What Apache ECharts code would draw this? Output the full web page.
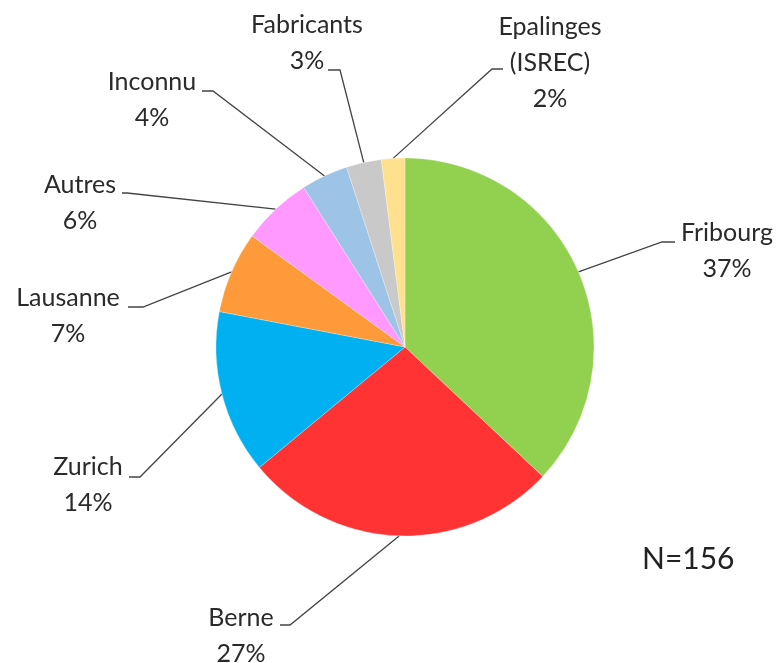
<!DOCTYPE html>
<html>
<head>
<meta charset="utf-8">
<script src="https://cdn.jsdelivr.net/npm/echarts@6/dist/echarts.min.js"></script>
<style>
  html, body { margin: 0; padding: 0; background: #fff; }
  #chart { width: 780px; height: 663px; }
</style>
</head>
<body>
<div id="chart"></div>
<script>
// Origine des échantillons (N = 156), en pourcentage
const categories = ['Fribourg', 'Berne', 'Zurich', 'Lausanne', 'Autres', 'Inconnu', 'Fabricants', 'Epalinges\n(ISREC)'];
const percents = [37, 27, 14, 7, 6, 4, 3, 2];
const sliceColors = ['#92D050', '#FF3333', '#00B0F0', '#FF9A3A', '#FF99FF', '#9DC3E6', '#C9C9C9', '#FFE08F'];
const totalText = 'N=156';

// Placement of each label: text centre x, block top y, leader tick y, tick end x (near text), elbow x
const labelSpots = [
  { cx: 727, top: 215, tickY: 242, tickEnd: 675, elbow: 662 },
  { cx: 241, top: 600, tickY: 625, tickEnd: 280, elbow: 290 },
  { cx: 88,  top: 449, tickY: 477, tickEnd: 129, elbow: 140 },
  { cx: 68,  top: 280, tickY: 307, tickEnd: 128, elbow: 143 },
  { cx: 80,  top: 167, tickY: 193, tickEnd: 122, elbow: 127 },
  { cx: 152, top: 64,  tickY: 91,  tickEnd: 202, elbow: 213 },
  { cx: 307, top: 7,   tickY: 70,  tickEnd: 328, elbow: 340 },
  { cx: 550, top: 9,   tickY: 69,  tickEnd: 503, elbow: 492 }
];

const pieCenter = [405, 347];
const pieRadius = 189;

const chart = echarts.init(document.getElementById('chart'), null, { renderer: 'canvas' });

const seriesData = categories.map((name, i) => ({
  name: name,
  value: percents[i],
  itemStyle: { color: sliceColors[i] }
}));

// Fallback for the leader start: outer edge at the slice's mid angle
function sliceEdgePoint(index) {
  const total = percents.reduce((a, b) => a + b, 0);
  let before = 0;
  for (let i = 0; i < index; i++) before += percents[i];
  const mid = (before + percents[index] / 2) / total * Math.PI * 2;
  return [pieCenter[0] + pieRadius * Math.sin(mid), pieCenter[1] - pieRadius * Math.cos(mid)];
}

chart.setOption({
  backgroundColor: '#ffffff',
  animation: false,
  graphic: [{
    type: 'text',
    left: 642,
    top: 544,
    style: {
      text: totalText,
      font: '30px Lato, "Open Sans", sans-serif',
      fill: '#222222'
    }
  }],
  series: [{
    type: 'pie',
    center: pieCenter,
    radius: pieRadius,
    startAngle: 90,
    clockwise: true,
    avoidLabelOverlap: false,
    data: seriesData,
    itemStyle: { borderColor: 'rgba(255,255,255,0.5)', borderWidth: 0.5 },
    label: {
      show: true,
      position: 'outside',
      formatter: function (p) { return p.name + '\n' + p.value + '%'; },
      fontFamily: 'Lato, "Open Sans", sans-serif',
      fontSize: 25,
      lineHeight: 36,
      color: '#2a2a2a',
      overflow: 'none',
      align: 'center'
    },
    labelLine: {
      show: true,
      length: 20,
      length2: 10,
      smooth: false,
      lineStyle: { color: '#444444', width: 1.3 }
    },
    labelLayout: function (params) {
      const s = labelSpots[params.dataIndex];
      const start = (params.labelLinePoints && params.labelLinePoints[0])
        ? params.labelLinePoints[0]
        : sliceEdgePoint(params.dataIndex);
      return {
        x: s.cx,
        y: s.top,
        align: 'center',
        verticalAlign: 'top',
        labelLinePoints: [start, [s.elbow, s.tickY], [s.tickEnd, s.tickY]]
      };
    },
    emphasis: { disabled: true }
  }]
});
</script>
</body>
</html>
